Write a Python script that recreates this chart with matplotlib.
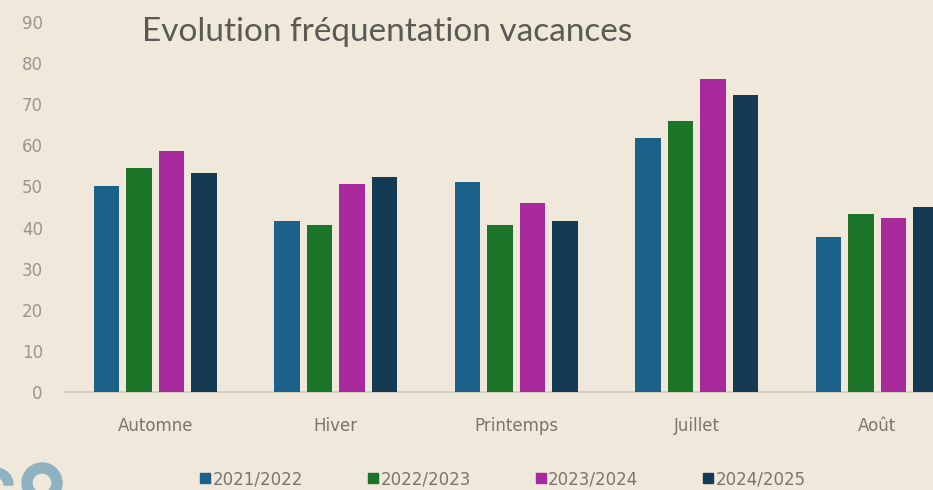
import matplotlib
matplotlib.use("Agg")
import matplotlib.pyplot as plt
from matplotlib.lines import Line2D
from matplotlib.patches import Wedge
import numpy as np

categories = ["Automne", "Hiver", "Printemps", "Juillet", "Août"]
series_labels = ["2021/2022", "2022/2023", "2023/2024", "2024/2025"]
v2021 = [50.2, 41.7, 51.0, 61.7, 37.6]
v2022 = [54.4, 40.5, 40.5, 65.9, 43.4]
v2023 = [58.5, 50.7, 45.9, 76.1, 42.4]
v2024 = [53.2, 52.2, 41.7, 72.2, 45.1]
yticks = [0, 10, 20, 30, 40, 50, 60, 70, 80, 90]
title = "Evolution fréquentation vacances"

colors = ["#1b6189", "#1c7428", "#a8299b", "#143a54"]
bg = "#efe8db"

plt.rcParams['font.family'] = ['DejaVu Sans']

W, H = 933, 490
fig = plt.figure(figsize=(W / 100, H / 100), dpi=100, facecolor=bg)
ax_left, ax_right, ax_top, ax_bottom = 65, 933, 22, 392
ax = fig.add_axes([ax_left / W, 1 - ax_bottom / H, (ax_right - ax_left) / W, (ax_bottom - ax_top) / H])
ax.set_facecolor(bg)

group_px = 180.5
x = np.arange(len(categories))
step = 0.18
width = 0.142
data = [v2021, v2022, v2023, v2024]
for i, (vals, c) in enumerate(zip(data, colors)):
    ax.bar(x + (i - 1.5) * step, vals, width=width, color=c, label=series_labels[i], zorder=3)

ax.set_xlim(-0.5, -0.5 + (ax_right - ax_left) / group_px)
ax.set_ylim(0, 90)
ax.set_yticks(yticks)
ax.set_yticklabels([str(t) for t in yticks])
ax.set_xticks(x)
ax.set_xticklabels(categories)
ax.tick_params(axis='y', length=0, pad=16, labelsize=12, labelcolor="#9a958f")
ax.tick_params(axis='x', length=0, pad=18, labelsize=12, labelcolor="#7a756f")
for s in ["top", "right", "left"]:
    ax.spines[s].set_visible(False)
ax.spines["bottom"].set_color("#d2cbc0")
ax.spines["bottom"].set_linewidth(1.2)

fig.text(142 / W, 1 - 32 / H, title, fontsize=24, color="#5c5854", ha="left", va="center",
         family=["Lato", "DejaVu Sans"])

handles = [Line2D([0], [0], marker="s", linestyle="none", markersize=7,
                  markerfacecolor=c, markeredgecolor=c) for c in colors]
fig.legend(handles, series_labels, loc="center", bbox_to_anchor=(503 / W, 1 - 479 / H),
           ncol=4, frameon=False, fontsize=12, labelcolor="#7a756f",
           handlelength=0.6, handletextpad=0.15, columnspacing=3.9)

# partial logo, cropped at the bottom-left corner
logo = "#8fb2c3"
fig.patches.append(Wedge((42, 7), 20, 0, 360, width=10, color=logo, transform=None))
fig.patches.append(Wedge((-4, 5), 17, 0, 90, width=9, color=logo, transform=None))

fig.savefig("out.png", dpi=100, facecolor=bg)
